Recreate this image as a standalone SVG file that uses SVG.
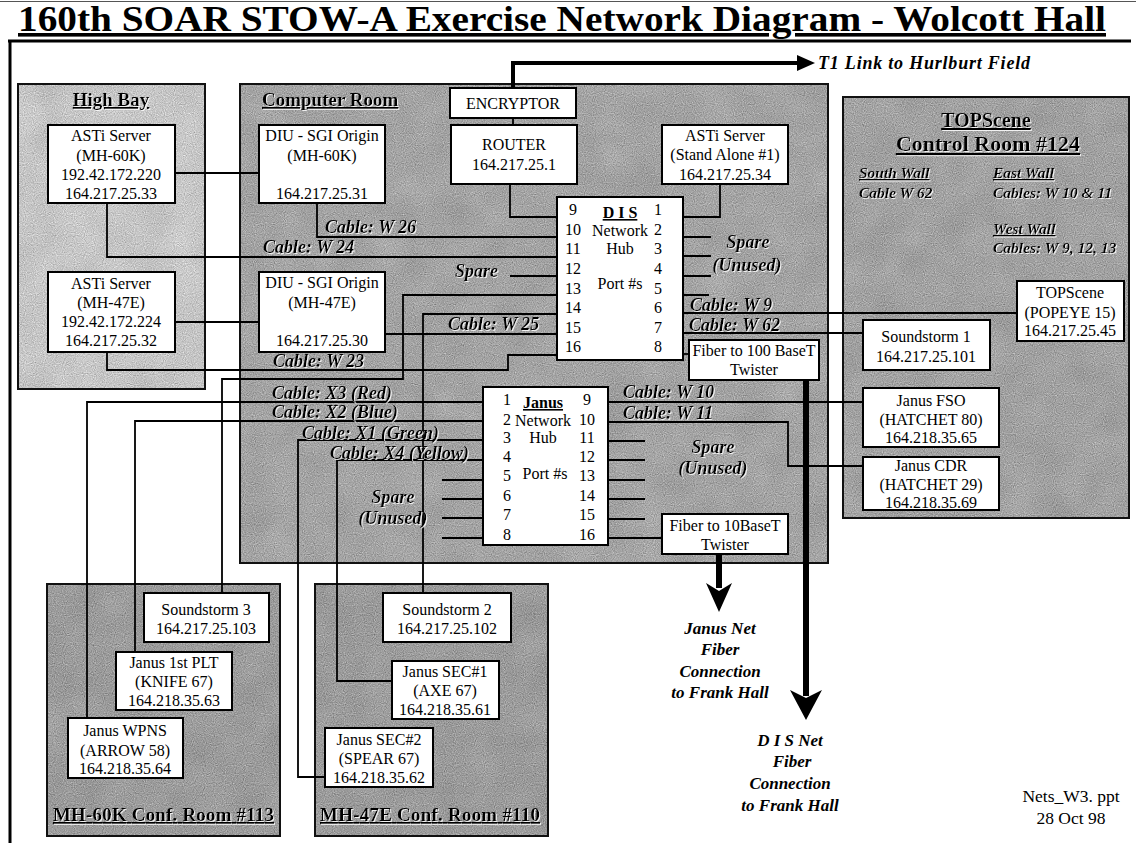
<svg xmlns="http://www.w3.org/2000/svg" width="1136" height="843" viewBox="0 0 1136 843">
<defs>
<style>
.t{font-family:"Liberation Serif","Times New Roman",serif;font-size:16px;fill:#000}
.c{text-anchor:middle}
.bi{font-weight:bold;font-style:italic;font-size:18px}
.rt{font-weight:bold;font-size:19px;text-decoration:underline}
.box{fill:#fff;stroke:#000;stroke-width:2}
.room{fill:none;stroke:#111;stroke-width:2}
.ln{fill:none;stroke:#000;stroke-width:1.8}
.thick{fill:none;stroke:#000;stroke-width:6}
</style>
<filter id="grain" x="0" y="0" width="1" height="1" color-interpolation-filters="sRGB">
<feTurbulence type="fractalNoise" baseFrequency="0.9" numOctaves="1" seed="4" result="n"/>
<feColorMatrix in="n" type="matrix" values="0.33 0.33 0.33 0 0 0.33 0.33 0.33 0 0 0.33 0.33 0.33 0 0 0 0 0 0 1" result="g"/>
<feTurbulence type="fractalNoise" baseFrequency="0.03" numOctaves="2" seed="7" result="c"/>
<feColorMatrix in="c" type="matrix" values="0.33 0.33 0.33 0 0 0.33 0.33 0.33 0 0 0.33 0.33 0.33 0 0 0 0 0 0 1" result="cg"/>
<feComposite in="SourceGraphic" in2="g" operator="arithmetic" k1="0" k2="1" k3="0.7" k4="-0.35" result="m"/>
<feComposite in="m" in2="cg" operator="arithmetic" k1="0" k2="1" k3="0.15" k4="-0.075" result="m2"/>
<feComposite in="m2" in2="SourceGraphic" operator="in"/>
</filter>
<filter id="emb" x="-5%" y="-20%" width="110%" height="150%">
<feFlood flood-color="#fff" flood-opacity="0.85"/>
<feComposite in2="SourceAlpha" operator="in"/>
<feOffset dx="1" dy="1" result="s"/>
<feMerge><feMergeNode in="s"/><feMergeNode in="SourceGraphic"/></feMerge>
</filter>
</defs>
<rect x="0" y="0" width="1136" height="843" fill="#fff"/>

<!-- frame and title -->
<g id="frame">
<line x1="0" y1="1.5" x2="1136" y2="1.5" stroke="#555" stroke-width="1"/>
<line x1="8" y1="41" x2="1131" y2="41" stroke="#000" stroke-width="3"/>
<line x1="10" y1="41" x2="10" y2="843" stroke="#000" stroke-width="3"/>
<text class="t" x="18" y="31" style="font-size:36px;font-weight:bold;text-decoration:underline" textLength="1088" lengthAdjust="spacingAndGlyphs">160th SOAR STOW-A Exercise Network Diagram - Wolcott Hall</text>
</g>

<!-- rooms -->
<g id="room-highbay">
<rect x="18" y="84" width="187" height="305" fill="#c6c6c6" filter="url(#grain)"/>
<rect class="room" x="18" y="84" width="187" height="305"/>
<text class="t rt c" x="111" y="106" filter="url(#emb)">High  Bay</text>
</g>
<g id="room-computer">
<rect x="240" y="84" width="588" height="479" fill="#a4a4a4" filter="url(#grain)"/>
<rect class="room" x="240" y="84" width="588" height="479"/>
<text class="t rt" x="262" y="106" filter="url(#emb)">Computer Room</text>
</g>
<g id="room-topscene">
<rect x="843" y="97" width="286" height="421" fill="#a2a2a2" filter="url(#grain)"/>
<rect class="room" x="843" y="97" width="286" height="421"/>
<text class="t rt c" x="986" y="127" style="font-size:20px" filter="url(#emb)">TOPScene</text>
<text class="t rt c" x="988" y="151" style="font-size:22px" filter="url(#emb)">Control Room  #124</text>
<text class="t bi" x="859" y="178" style="font-size:15.5px;text-decoration:underline" filter="url(#emb)">South Wall</text>
<text class="t bi" x="859" y="198" style="font-size:15.5px" filter="url(#emb)">Cable  W 62</text>
<text class="t bi" x="993" y="178" style="font-size:15.5px;text-decoration:underline" filter="url(#emb)">East Wall</text>
<text class="t bi" x="993" y="198" style="font-size:15.5px" filter="url(#emb)">Cables: W 10 &amp; 11</text>
<text class="t bi" x="993" y="234" style="font-size:15.5px;text-decoration:underline" filter="url(#emb)">West Wall</text>
<text class="t bi" x="993" y="253" style="font-size:15.5px" filter="url(#emb)">Cables: W 9, 12, 13</text>
</g>
<g id="room-113">
<rect x="47" y="584" width="233" height="252" fill="#9c9c9c" filter="url(#grain)"/>
<rect class="room" x="47" y="584" width="233" height="252"/>
<text class="t rt" x="53" y="821" style="font-size:19px" textLength="221" filter="url(#emb)">MH-60K Conf. Room  #113</text>
</g>
<g id="room-110">
<rect x="315" y="584" width="233" height="252" fill="#9c9c9c" filter="url(#grain)"/>
<rect class="room" x="315" y="584" width="233" height="252"/>
<text class="t rt" x="320" y="821" style="font-size:19px" textLength="220" filter="url(#emb)">MH-47E Conf. Room  #110</text>
</g>

<!-- connectors -->
<g id="connectors">
<path class="ln" d="M513,118 V125"/>
<path d="M513,88 V63 H799" fill="none" stroke="#000" stroke-width="4"/>
<polygon points="797,55 815,63 797,71" fill="#000"/>
<path class="ln" d="M175,173 H259"/>
<path class="ln" d="M175,322 H259"/>
<path class="ln" d="M510,184 V217 H557"/>
<path class="ln" d="M720,184 V217 H683"/>
<path class="ln" d="M317,203 V237 H557"/>
<path class="ln" d="M107,203 V257 H557"/>
<path class="ln" d="M510,276 H557"/>
<path class="ln" d="M557,295 H403 V379 H222 V593"/>
<path class="ln" d="M557,314 H423 V593"/>
<path class="ln" d="M385,334 H557"/>
<path class="ln" d="M107,352 V370 H508 V355 H557"/>
<path class="ln" d="M683,237 H711 M683,256 H711 M683,276 H711 M683,295 H709"/>
<path class="ln" d="M683,313 H1017"/>
<path class="ln" d="M683,333 H863"/>
<path class="ln" d="M683,354 H689"/>
<path class="ln" d="M608,402 H863"/>
<path class="ln" d="M608,422 H788 V466 H863"/>
<path class="ln" d="M608,441 H645 M608,460 H645 M608,480 H645 M608,499 H645 M608,519 H645"/>
<path class="ln" d="M608,538 H662"/>
<path class="ln" d="M442,480 H483 M442,499 H483 M442,518 H483 M442,538 H483"/>
<path class="ln" d="M483,402 H87 V718"/>
<path class="ln" d="M483,421 H135 V652"/>
<path class="ln" d="M483,440 H298 V777 H325"/>
<path class="ln" d="M483,460 H337 V681 H392"/>
<path class="thick" d="M806,380 V696"/>
<polygon points="790,690 806,698 822,690 806,720" fill="#000"/>
<path class="thick" d="M719,554 V588"/>
<polygon points="706,583 719,591 732,583 719,612" fill="#000"/>
</g>

<!-- cable labels -->
<g id="labels" filter="url(#emb)">
<text class="t bi" x="325" y="233">Cable: W 26</text>
<text class="t bi" x="263" y="253">Cable: W 24</text>
<text class="t bi" x="455" y="277">Spare</text>
<text class="t bi" x="448" y="330">Cable: W 25</text>
<text class="t bi" x="273" y="367">Cable: W 23</text>
<text class="t bi" x="272" y="399">Cable: X3 (Red)</text>
<text class="t bi" x="272" y="418">Cable: X2 (Blue)</text>
<text class="t bi" x="302" y="439">Cable: X1 (Green)</text>
<text class="t bi" x="330" y="459">Cable: X4 (Yellow)</text>
<text class="t bi" x="690" y="311">Cable: W 9</text>
<text class="t bi" x="689" y="331">Cable: W 62</text>
<text class="t bi c" x="748" y="248">Spare</text>
<text class="t bi c" x="747" y="271">(Unused)</text>
<text class="t bi" x="623" y="398">Cable: W 10</text>
<text class="t bi" x="623" y="419">Cable: W 11</text>
<text class="t bi c" x="713" y="453">Spare</text>
<text class="t bi c" x="713" y="474">(Unused)</text>
<text class="t bi c" x="393" y="503">Spare</text>
<text class="t bi c" x="393" y="524">(Unused)</text>
</g>

<!-- nodes -->
<g id="encryptor"><rect class="box" x="450" y="88" width="126" height="30"/><text class="t c" x="513" y="109">ENCRYPTOR</text></g>
<g id="router"><rect class="box" x="451" y="125" width="126" height="59"/><text class="t c" x="514" y="150">ROUTER</text><text class="t c" x="514" y="170">164.217.25.1</text></g>
<g id="asti-sa"><rect class="box" x="662" y="125" width="126" height="59"/><text class="t c" x="725" y="141">ASTi Server</text><text class="t c" x="725" y="160">(Stand Alone #1)</text><text class="t c" x="725" y="180">164.217.25.34</text></g>
<g id="diu-60k"><rect class="box" x="259" y="125" width="126" height="78"/><text class="t c" x="322" y="141">DIU - SGI Origin</text><text class="t c" x="322" y="161">(MH-60K)</text><text class="t c" x="322" y="199">164.217.25.31</text></g>
<g id="diu-47e"><rect class="box" x="259" y="272" width="126" height="80"/><text class="t c" x="322" y="288">DIU - SGI Origin</text><text class="t c" x="322" y="308">(MH-47E)</text><text class="t c" x="322" y="346">164.217.25.30</text></g>
<g id="asti-60k"><rect class="box" x="48" y="125" width="127" height="78"/><text class="t c" x="111" y="141">ASTi Server</text><text class="t c" x="111" y="161">(MH-60K)</text><text class="t c" x="111" y="180">192.42.172.220</text><text class="t c" x="111" y="199">164.217.25.33</text></g>
<g id="asti-47e"><rect class="box" x="48" y="272" width="127" height="80"/><text class="t c" x="111" y="289">ASTi Server</text><text class="t c" x="111" y="308">(MH-47E)</text><text class="t c" x="111" y="327">192.42.172.224</text><text class="t c" x="111" y="346">164.217.25.32</text></g>
<g id="dis-hub"><rect class="box" x="557" y="197" width="126" height="163"/>
<text class="t c" x="573" y="215">9</text><text class="t c" x="573" y="235">10</text><text class="t c" x="573" y="254">11</text><text class="t c" x="573" y="274">12</text><text class="t c" x="573" y="294">13</text><text class="t c" x="573" y="313">14</text><text class="t c" x="573" y="333">15</text><text class="t c" x="573" y="352">16</text>
<text class="t c" x="658" y="215">1</text><text class="t c" x="658" y="235">2</text><text class="t c" x="658" y="254">3</text><text class="t c" x="658" y="274">4</text><text class="t c" x="658" y="294">5</text><text class="t c" x="658" y="313">6</text><text class="t c" x="658" y="333">7</text><text class="t c" x="658" y="352">8</text>
<text class="t c" x="620" y="218" style="font-weight:bold;text-decoration:underline">D I S</text><text class="t c" x="620" y="236">Network</text><text class="t c" x="620" y="254">Hub</text><text class="t c" x="620" y="289">Port #s</text></g>
<g id="fiber-100"><rect class="box" x="689" y="340" width="130" height="40"/><text class="t c" x="754" y="356">Fiber to 100 BaseT</text><text class="t c" x="754" y="375">Twister</text></g>
<g id="janus-hub"><rect class="box" x="483" y="387" width="125" height="158"/>
<text class="t c" x="507" y="405">1</text><text class="t c" x="507" y="425">2</text><text class="t c" x="507" y="443">3</text><text class="t c" x="507" y="462">4</text><text class="t c" x="507" y="481">5</text><text class="t c" x="507" y="501">6</text><text class="t c" x="507" y="520">7</text><text class="t c" x="507" y="540">8</text>
<text class="t c" x="587" y="405">9</text><text class="t c" x="587" y="425">10</text><text class="t c" x="587" y="443">11</text><text class="t c" x="587" y="462">12</text><text class="t c" x="587" y="481">13</text><text class="t c" x="587" y="501">14</text><text class="t c" x="587" y="520">15</text><text class="t c" x="587" y="540">16</text>
<text class="t c" x="543" y="408" style="font-weight:bold;text-decoration:underline">Janus</text><text class="t c" x="543" y="426">Network</text><text class="t c" x="543" y="443">Hub</text><text class="t c" x="545" y="479">Port #s</text></g>
<g id="fiber-10"><rect class="box" x="662" y="514" width="126" height="40"/><text class="t c" x="725" y="531">Fiber to 10BaseT</text><text class="t c" x="725" y="550">Twister</text></g>
<g id="topscene"><rect class="box" x="1017" y="281" width="107" height="60"/><text class="t c" x="1070" y="298">TOPScene</text><text class="t c" x="1070" y="318">(POPEYE 15)</text><text class="t c" x="1070" y="336">164.217.25.45</text></g>
<g id="soundstorm1"><rect class="box" x="863" y="320" width="127" height="50"/><text class="t c" x="926" y="342">Soundstorm  1</text><text class="t c" x="926" y="362">164.217.25.101</text></g>
<g id="janus-fso"><rect class="box" x="863" y="388" width="136" height="59"/><text class="t c" x="931" y="406">Janus FSO</text><text class="t c" x="931" y="425">(HATCHET 80)</text><text class="t c" x="931" y="443">164.218.35.65</text></g>
<g id="janus-cdr"><rect class="box" x="863" y="457" width="136" height="53"/><text class="t c" x="931" y="471">Janus CDR</text><text class="t c" x="931" y="490">(HATCHET 29)</text><text class="t c" x="931" y="508">164.218.35.69</text></g>
<g id="soundstorm3"><rect class="box" x="144" y="593" width="125" height="49"/><text class="t c" x="206" y="615">Soundstorm  3</text><text class="t c" x="206" y="634">164.217.25.103</text></g>
<g id="janus-1stplt"><rect class="box" x="116" y="652" width="116" height="58"/><text class="t c" x="174" y="668">Janus 1st PLT</text><text class="t c" x="174" y="687">(KNIFE 67)</text><text class="t c" x="174" y="706">164.218.35.63</text></g>
<g id="janus-wpns"><rect class="box" x="68" y="718" width="115" height="60"/><text class="t c" x="125" y="736">Janus WPNS</text><text class="t c" x="125" y="756">(ARROW 58)</text><text class="t c" x="125" y="774">164.218.35.64</text></g>
<g id="soundstorm2"><rect class="box" x="383" y="593" width="128" height="49"/><text class="t c" x="447" y="615">Soundstorm  2</text><text class="t c" x="447" y="634">164.217.25.102</text></g>
<g id="janus-sec1"><rect class="box" x="392" y="661" width="107" height="58"/><text class="t c" x="445" y="677">Janus SEC#1</text><text class="t c" x="445" y="696">(AXE 67)</text><text class="t c" x="445" y="715">164.218.35.61</text></g>
<g id="janus-sec2"><rect class="box" x="325" y="728" width="108" height="59"/><text class="t c" x="379" y="745">Janus SEC#2</text><text class="t c" x="379" y="764">(SPEAR 67)</text><text class="t c" x="379" y="783">164.218.35.62</text></g>

<!-- free texts -->
<g id="notes">
<text class="t bi" x="818" y="69" style="font-size:18px" textLength="212">T1  Link  to  Hurlburt  Field</text>
<text class="t bi c" x="720" y="634" style="font-size:17px">Janus Net</text>
<text class="t bi c" x="720" y="655" style="font-size:17px">Fiber</text>
<text class="t bi c" x="720" y="677" style="font-size:17px">Connection</text>
<text class="t bi c" x="720" y="698" style="font-size:17px">to Frank Hall</text>
<text class="t bi c" x="790" y="746" style="font-size:17px">D I S Net</text>
<text class="t bi c" x="792" y="767" style="font-size:17px">Fiber</text>
<text class="t bi c" x="790" y="789" style="font-size:17px">Connection</text>
<text class="t bi c" x="790" y="811" style="font-size:17px">to Frank Hall</text>
<text class="t c" x="1071" y="802" style="font-size:17.5px">Nets_W3. ppt</text>
<text class="t c" x="1071" y="824" style="font-size:17.5px">28 Oct  98</text>
</g>
</svg>
